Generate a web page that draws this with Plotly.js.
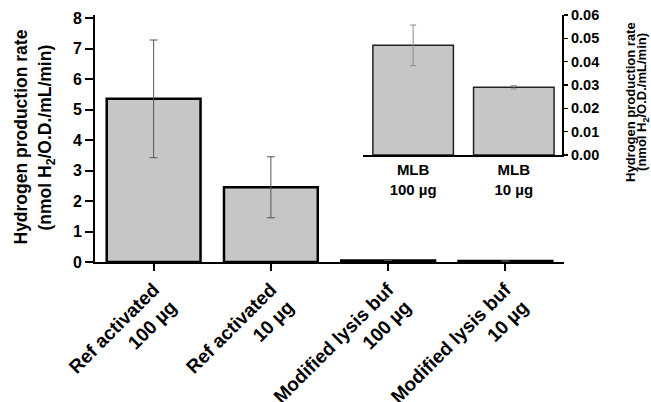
<!DOCTYPE html>
<html><head><meta charset="utf-8">
<script src="https://cdn.plot.ly/plotly-3.0.1.min.js"></script>
<style>html,body{margin:0;padding:0;background:#fff}</style>
</head><body><div id="chart" style="width:651px;height:402px"></div>
<script>
// Main chart data
const categories = ['Ref activated<br>100 µg', 'Ref activated<br>10 µg', 'Modified lysis buf<br>100 µg', 'Modified lysis buf<br>10 µg'];
const rates = [5.35, 2.45, 0.048, 0.029];
const rateErrors = [1.93, 1.0, 0, 0];
const mainTickVals = [0, 1, 2, 3, 4, 5, 6, 7, 8];

// Inset data
const insetCategories = ['MLB<br>100 µg', 'MLB<br>10 µg'];
const insetRates = [0.047, 0.029];
const insetErrors = [0.0087, 0.0007];
const insetTickVals = [0, 0.01, 0.02, 0.03, 0.04, 0.05, 0.06];

const titleLine1 = 'Hydrogen production rate';
const titleLine2 = '(nmol H<sub>2</sub>/O.D./mL/min)';

const FONT = 'Liberation Sans, Arial, sans-serif';
const f = (size) => ({family: FONT, size: size, color: '#000', weight: 'bold'});

const traces = [
  {
    type: 'bar', x: categories, y: rates, xaxis: 'x', yaxis: 'y', width: 0.8,
    marker: {color: '#c6c6c6', line: {color: '#000', width: 2.5}},
    error_y: {type: 'data', array: rateErrors, visible: true, color: '#555', thickness: 1, width: 4},
    hoverinfo: 'none'
  },
  {
    type: 'bar', x: insetCategories, y: insetRates, xaxis: 'x2', yaxis: 'y2', width: 0.8,
    marker: {color: '#c6c6c6', line: {color: '#222', width: 1.5}},
    error_y: {type: 'data', array: insetErrors, visible: true, color: '#888', thickness: 1, width: 3},
    hoverinfo: 'none'
  }
];

const layout = {
  width: 651, height: 402,
  margin: {l: 95, r: 87, t: 15, b: 140},
  paper_bgcolor: '#fff', plot_bgcolor: 'rgba(0,0,0,0)',
  showlegend: false,
  font: f(16),
  xaxis: {
    type: 'category', range: [-0.5, 3.5], domain: [0, 1], anchor: 'y',
    showline: true, linecolor: '#000', linewidth: 2,
    ticks: 'outside', ticklen: 7, tickwidth: 2, tickcolor: '#000',
    tickangle: -45, tickfont: f(19), showgrid: false, zeroline: false
  },
  yaxis: {
    range: [0, 8.1], domain: [0, 1], anchor: 'x',
    tickvals: mainTickVals,
    showline: true, linecolor: '#000', linewidth: 2,
    ticks: 'outside', ticklen: 8, tickwidth: 2, tickcolor: '#000',
    tickfont: f(16), showgrid: false, zeroline: false
  },
  xaxis2: {
    type: 'category', range: [-0.5, 1.48], domain: [0.571, 0.996], anchor: 'y2',
    showline: true, linecolor: '#000', linewidth: 2,
    ticks: '', tickfont: f(15), showgrid: false, zeroline: false
  },
  yaxis2: {
    range: [0, 0.06], domain: [0.433, 1], anchor: 'x2', side: 'right',
    tickvals: insetTickVals, tickformat: '.2f',
    showline: true, linecolor: '#000', linewidth: 2,
    ticks: 'outside', ticklen: 4, tickwidth: 1.5, tickcolor: '#000',
    tickfont: f(14.5), showgrid: false, zeroline: false
  },
  annotations: [
    {text: titleLine1, xref: 'paper', yref: 'paper', x: 0, y: 0.504, xshift: -74, textangle: -90,
     showarrow: false, xanchor: 'center', yanchor: 'middle', font: f(17.5)},
    {text: titleLine2, xref: 'paper', yref: 'paper', x: 0, y: 0.504, xshift: -48, textangle: -90,
     showarrow: false, xanchor: 'center', yanchor: 'middle', font: f(17.5)},
    {text: titleLine1, xref: 'paper', yref: 'paper', x: 1, y: 0.648, xshift: 631 - 564, textangle: -90,
     showarrow: false, xanchor: 'center', yanchor: 'middle', font: f(13)},
    {text: titleLine2, xref: 'paper', yref: 'paper', x: 1, y: 0.648, xshift: 643 - 564, textangle: -90,
     showarrow: false, xanchor: 'center', yanchor: 'middle', font: f(13)}
  ]
};

Plotly.newPlot('chart', traces, layout, {staticPlot: true, displayModeBar: false});
</script>
</body></html>
